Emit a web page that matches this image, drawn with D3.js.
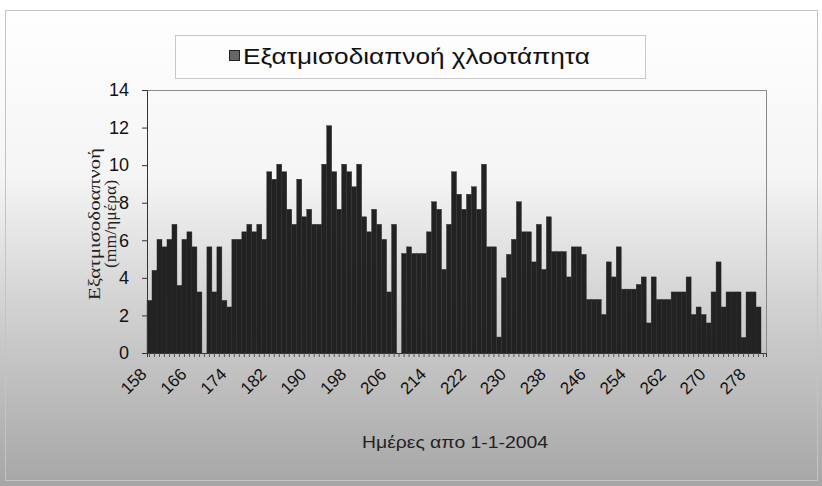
<!DOCTYPE html>
<html><head><meta charset="utf-8">
<script src="https://cdn.jsdelivr.net/npm/d3@7"></script>
<style>html,body{margin:0;padding:0;background:#fff;}svg{display:block;}</style>
</head><body>
<script>
const startDay = 158;
const values = [
 2.8,4.4,6.05,5.65,6.05,6.85,3.6,6.05,6.45,5.65,3.25,0,5.65,3.25,5.65,2.8,2.45,
 6.05,6.05,6.45,6.85,6.45,6.85,6.05,9.65,9.25,10.05,9.65,7.65,6.85,9.25,7.25,7.65,6.85,
 6.85,10.05,12.1,9.65,7.65,10.05,9.65,8.85,10.05,7.25,6.45,7.65,6.85,6.05,3.25,6.85,0,
 5.3,5.65,5.3,5.3,5.3,6.45,8.05,7.65,4.45,6.85,9.65,8.45,7.65,8.45,8.85,7.65,10.05,
 5.65,5.65,0.85,4.0,5.25,6.05,8.05,6.45,6.45,4.85,6.85,4.45,7.25,5.4,5.4,5.4,4.05,
 5.65,5.65,5.25,2.85,2.85,2.85,2.05,4.85,4.05,5.65,3.4,3.4,3.4,3.65,4.05,1.6,4.05,
 2.85,2.85,2.85,3.25,3.25,3.25,4.05,2.05,2.45,2.05,1.6,3.25,4.85,2.45,3.25,3.25,3.25,
 0.83,3.25,3.25,2.45,null
];
const days = values.map((v,i)=>startDay+i);
const xTickDays = [158,166,174,182,190,198,206,214,222,230,238,246,254,262,270,278];
const yTicks = [0,2,4,6,8,10,12,14];
const seriesName = "Εξατμισοδιαπνοή χλοοτάπητα";
const yTitle1 = "Εξατμισοδοαπνοή";
const yTitle2 = "(mm/ημέρα)";
const xTitle = "Ημέρες απο 1-1-2004";

const W=822,H=486;
const plot={l:147,r:766,t:90,b:353};
const SANS="Liberation Sans, Arial, sans-serif";
const svg=d3.select("body").append("svg").attr("width",W).attr("height",H);
const defs=svg.append("defs");
const g1=defs.append("linearGradient").attr("id","bg").attr("x1",0).attr("y1",0).attr("x2",0).attr("y2",1);
[[0,"#ffffff"],[0.36,"#f5f5f5"],[0.7,"#c9c9c9"],[1,"#a6a6a6"]].forEach(s=>g1.append("stop").attr("offset",s[0]).attr("stop-color",s[1]));
svg.append("rect").attr("width",W).attr("height",H).attr("fill","url(#bg)");
svg.append("rect").attr("x",5.5).attr("y",10.5).attr("width",812).attr("height",470).attr("fill","none").attr("stroke","#c4c4c4").attr("stroke-width",1);

const x=d3.scaleBand().domain(days).range([plot.l,plot.r]).padding(0);
const y=d3.scaleLinear().domain([0,14]).range([plot.b,plot.t]);

svg.append("line").attr("x1",plot.l).attr("x2",plot.r).attr("y1",plot.t+0.5).attr("y2",plot.t+0.5).attr("stroke","#8a8a8a");
svg.append("line").attr("x1",plot.r+0.5).attr("x2",plot.r+0.5).attr("y1",plot.t).attr("y2",plot.b).attr("stroke","#8a8a8a");

svg.append("g").selectAll("rect").data(values.map((v,i)=>({d:days[i],v})).filter(o=>o.v!=null&&o.v>0))
 .join("rect")
 .attr("x",o=>x(o.d)).attr("width",x.bandwidth())
 .attr("y",o=>y(o.v)).attr("height",o=>y(0)-y(o.v))
 .attr("fill","#222").attr("stroke","#2c2c2c").attr("stroke-width",0.4);

const yAxis=d3.axisLeft(y).tickValues(yTicks).tickSize(5).tickPadding(13);
const ya=svg.append("g").attr("transform",`translate(${plot.l},0)`).call(yAxis);
ya.select(".domain").attr("stroke","#333");
ya.selectAll(".tick line").attr("stroke","#333");
ya.selectAll("text").attr("font-family",SANS).attr("font-size",18).attr("fill","#111");

const xAxis=d3.axisBottom(x).tickValues(days).tickSize(4).tickFormat(()=>"");
const xa=svg.append("g").attr("transform",`translate(0,${plot.b})`).call(xAxis);
xa.select(".domain").attr("stroke","#333");
xa.selectAll(".tick line").attr("stroke","#555");

const lbl=svg.append("g").attr("class","xlabels");
lbl.selectAll("g").data(xTickDays).join("g")
  .attr("transform",d=>`translate(${x(d)+x.bandwidth()/2-6},${plot.b+18}) rotate(-45)`)
  .append("text")
  .attr("text-anchor","end").attr("dy","0.35em")
  .attr("font-family",SANS).attr("font-size",17).attr("fill","#111").text(d=>d);

svg.append("text").attr("x",455).attr("y",448).attr("text-anchor","middle")
 .attr("font-family",SANS).attr("font-size",16).attr("fill","#222")
 .attr("textLength",186).attr("lengthAdjust","spacingAndGlyphs").text(xTitle);
const yt=svg.append("g").attr("transform","translate(100,224) rotate(-90)");
yt.append("text").attr("text-anchor","middle").attr("x",0).attr("y",0)
 .attr("font-family","Liberation Serif, Times New Roman, serif").attr("font-size",16).attr("fill","#222")
 .attr("textLength",152).attr("lengthAdjust","spacingAndGlyphs").text(yTitle1);
yt.append("text").attr("text-anchor","middle").attr("x",0).attr("y",16)
 .attr("font-family","Liberation Serif, Times New Roman, serif").attr("font-size",16).attr("fill","#222")
 .attr("textLength",88).attr("lengthAdjust","spacingAndGlyphs").text(yTitle2);

const lg=svg.append("g");
lg.append("rect").attr("x",175.5).attr("y",35.5).attr("width",470).attr("height",43).attr("fill","#fdfdfd").attr("stroke","#c8c8c8");
lg.append("rect").attr("x",229.5).attr("y",50.5).attr("width",10).attr("height",10).attr("fill","#666").attr("stroke","#222");
lg.append("text").attr("x",243).attr("y",64).attr("font-family",SANS).attr("font-size",22).attr("fill","#111")
 .attr("textLength",347).attr("lengthAdjust","spacingAndGlyphs").text(seriesName);
</script>
</body></html>
